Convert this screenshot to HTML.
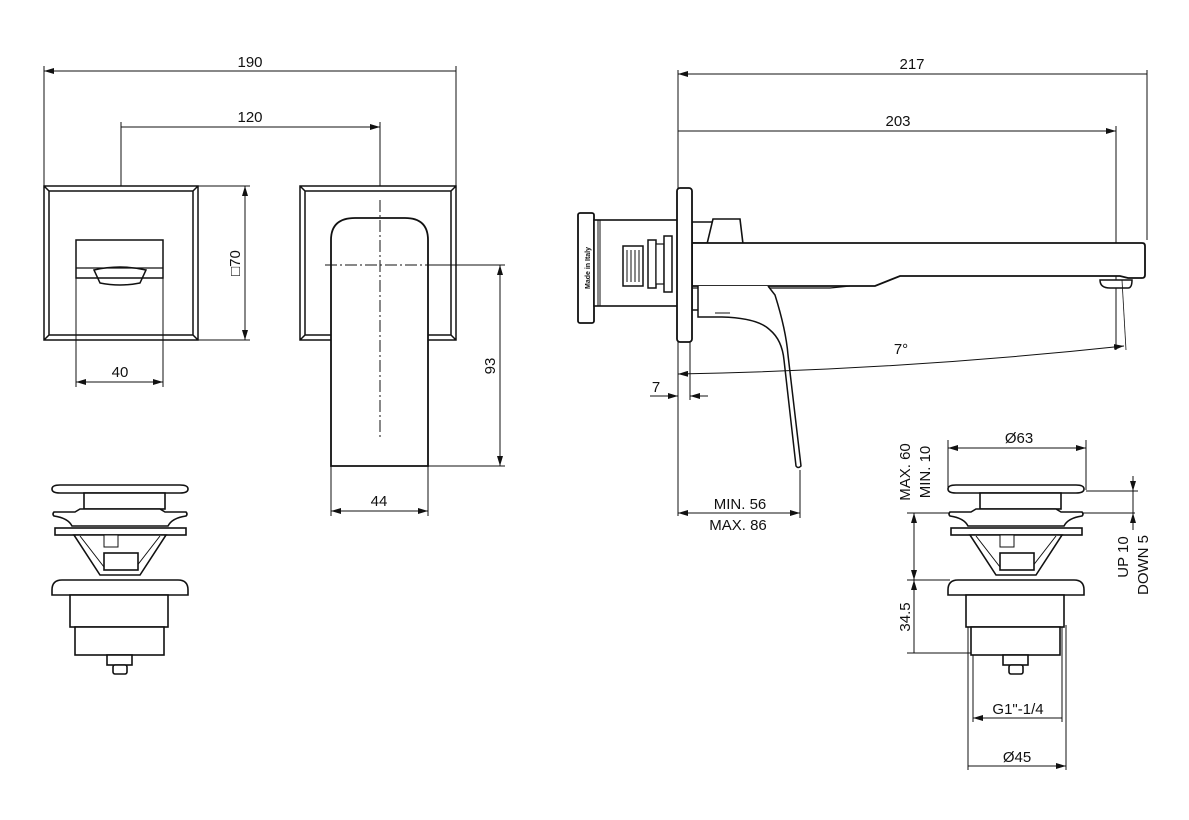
<!DOCTYPE html>
<html><head><meta charset="utf-8"><style>
html,body{margin:0;padding:0;background:#fff;}
svg{display:block;}
text{font-family:"Liberation Sans",sans-serif;font-size:15px;fill:#111;}
</style></head><body>
<svg width="1189" height="820" viewBox="0 0 1189 820" xmlns="http://www.w3.org/2000/svg">
<defs>
<marker id="a" viewBox="0 0 10 6" refX="10" refY="3" markerWidth="10" markerHeight="6" orient="auto-start-reverse" markerUnits="userSpaceOnUse"><path d="M0,0L10,3L0,6z" fill="#111"/></marker>
<g id="drain" fill="#fff" stroke="#111" stroke-width="1.6">
<path d="M52,489 Q52,485 60,485 L180,485 Q188,485 188,489 Q188,493 180,493 L60,493 Q52,493 52,489z"/>
<rect x="84" y="493" width="81" height="16"/>
<path d="M80,509 L160,509 L165,512 L186,512 Q188,514 186,516 Q172,518 168,526 L72,526 Q68,518 54,516 Q52,514 54,512 L75,512z"/>
<rect x="55" y="528" width="131" height="7"/>
<path d="M74,535 L166,535 L140,575 L100,575z"/>
<path d="M80,536 L104,567 M160,536 L136,567" stroke-width="1"/>
<rect x="104" y="553" width="34" height="17"/>
<rect x="104" y="535" width="14" height="12" stroke-width="1"/>
<path d="M52,590 Q52,580 62,580 L178,580 Q188,580 188,590 L188,595 L52,595z"/>
<rect x="70" y="595" width="98" height="32"/>
<rect x="75" y="627" width="89" height="28"/>
<rect x="107" y="655" width="25" height="10"/>
<rect x="113" y="665" width="14" height="9" rx="2"/>
</g>
</defs>

<g fill="none" stroke="#111" stroke-width="1">
<!-- top left front views -->
<path d="M44,186 H198 V340 H44Z M49,191 H193 V335 H49Z M44,186 L49,191 M198,186 L193,191 M44,340 L49,335 M198,340 L193,335" stroke-width="1.5"/>
<rect x="76" y="240" width="87" height="38" stroke-width="1.5"/>
<path d="M76,268 H163" stroke-width="1.2"/>
<path d="M94,270 Q120,264 146,270 L140,283 Q120,287 100,283Z" stroke-width="1.5"/>
<path d="M300,186 H456 V340 H300Z M305,191 H451 V335 H305Z M300,186 L305,191 M456,186 L451,191 M300,340 L305,335 M456,340 L451,335" stroke-width="1.5"/>
<path d="M331,466 V240 Q331,218 355,218 H405 Q428,218 428,240 V466 Z" fill="#fff" stroke-width="1.8"/>
<path d="M380,200 V440" stroke-dasharray="12,3,2,3"/>
<path d="M325,265 H440" stroke-dasharray="12,3,2,3"/>

<!-- dims top left -->
<path d="M44,66 V186 M456,66 V186 M121,122 V186 M380,122 V186"/>
<path d="M44,71 H456 M121,127 H380" marker-start="url(#a)" marker-end="url(#a)"/>
<path d="M198,186 H250 M198,340 H250"/>
<path d="M245,186 V340" marker-start="url(#a)" marker-end="url(#a)"/>
<path d="M76,278 V387 M163,278 V387"/>
<path d="M76,382 H163" marker-start="url(#a)" marker-end="url(#a)"/>
<path d="M428,265 H505 M428,466 H505"/>
<path d="M500,265 V466" marker-start="url(#a)" marker-end="url(#a)"/>
<path d="M331,466 V516 M428,466 V516"/>
<path d="M331,511 H428" marker-start="url(#a)" marker-end="url(#a)"/>

<!-- side view -->
<path d="M678,70 V516 M1147,70 V240 M1116,126 V350"/>
<path d="M678,74 H1147 M678,131 H1116" marker-start="url(#a)" marker-end="url(#a)"/>
<rect x="578" y="213" width="16" height="110" rx="2" fill="#fff" stroke-width="1.8"/>
<rect x="594" y="220" width="84" height="86" fill="#fff" stroke-width="1.6"/>
<rect x="598" y="220" width="2" height="86" stroke-width="1"/>
<rect x="623" y="246" width="20" height="40" fill="#fff" stroke-width="1.5"/>
<path d="M627,250 V282 M631,250 V282 M635,250 V282 M639,250 V282" stroke-width="1"/>
<rect x="648" y="240" width="8" height="48" fill="#fff" stroke-width="1.5"/>
<rect x="656" y="244" width="8" height="40" fill="#fff" stroke-width="1.2"/>
<rect x="664" y="236" width="8" height="56" fill="#fff" stroke-width="1.5"/>
<path d="M692,222 H712 Q728,222 738,232 L742,243 H692Z M692,278 H705 V310 H692Z" fill="#fff" stroke-width="1.5"/>
<path d="M707,244 L713,219 H740 L743,244Z" fill="#fff" stroke-width="1.6"/>
<path d="M692,243 H1142 Q1145,243 1145,246 V275 Q1145,278 1142,278 H1128 L1120,276 H900 L875,286 H692Z" fill="#fff" stroke-width="1.8"/>
<path d="M692,288 H830 L850,286" stroke-width="1.2"/>
<path d="M1100,280 Q1100,288 1110,288 H1128 Q1132,288 1132,280Z" fill="#fff" stroke-width="1.5"/>
<path d="M698,286 V317 H722 Q758,318 770,330 Q782,340 784,360 L796,466 Q798,469 801,466 L788,355 Q786,330 775,295 L768,286" fill="#fff" stroke-width="1.5"/>
<path d="M715,313 L730,313" stroke-width="1"/>
<rect x="677" y="188" width="15" height="154" rx="3" fill="#fff" stroke-width="1.8"/>
<path d="M1122,280 L1126,350" stroke-width="0.8"/>
<path d="M678,374 Q900,370 1124,346" marker-start="url(#a)" marker-end="url(#a)"/>
<path d="M690,342 V400"/>
<path d="M650,396 H678" marker-end="url(#a)"/>
<path d="M708,396 H690" marker-end="url(#a)"/>
<path d="M800,470 V518"/>
<path d="M678,513 H800" marker-start="url(#a)" marker-end="url(#a)"/>

<!-- right drain dims -->
<path d="M948,440 V490 M1086,440 V490"/>
<path d="M948,448 H1086" marker-start="url(#a)" marker-end="url(#a)"/>
<path d="M1086,491 H1138 M907,513 H1135 M907,580 H950 M907,653 H973"/>
<path d="M914,513 V580" marker-start="url(#a)" marker-end="url(#a)"/>
<path d="M914,580 V653" marker-start="url(#a)"/>
<path d="M1133,476 V491" marker-end="url(#a)"/>
<path d="M1133,530 V513" marker-end="url(#a)"/>
<path d="M1133,513 V491"/>
<path d="M973,625 V722 M1062,625 V722 M968,625 V770 M1066,625 V770"/>
<path d="M973,718 H1062 M968,766 H1066" marker-start="url(#a)" marker-end="url(#a)"/>
</g>

<use href="#drain"/>
<use href="#drain" transform="translate(896,0)"/>

<g>
<text x="250" y="67" text-anchor="middle">190</text>
<text x="250" y="122" text-anchor="middle">120</text>
<text x="120" y="377" text-anchor="middle">40</text>
<text x="379" y="506" text-anchor="middle">44</text>
<text transform="translate(240,263) rotate(-90)" text-anchor="middle">□70</text>
<text transform="translate(495,366) rotate(-90)" text-anchor="middle">93</text>
<text x="912" y="69" text-anchor="middle">217</text>
<text x="898" y="126" text-anchor="middle">203</text>
<text x="901" y="354" text-anchor="middle">7°</text>
<text x="656" y="392" text-anchor="middle">7</text>
<text x="740" y="509" text-anchor="middle">MIN. 56</text>
<text x="738" y="530" text-anchor="middle">MAX. 86</text>
<text x="1019" y="443" text-anchor="middle">Ø63</text>
<text transform="translate(910,472) rotate(-90)" text-anchor="middle">MAX. 60</text>
<text transform="translate(930,472) rotate(-90)" text-anchor="middle">MIN. 10</text>
<text transform="translate(910,617) rotate(-90)" text-anchor="middle">34.5</text>
<text transform="translate(1128,557) rotate(-90)" text-anchor="middle">UP 10</text>
<text transform="translate(1148,565) rotate(-90)" text-anchor="middle">DOWN 5</text>
<text x="1018" y="714" text-anchor="middle">G1"-1/4</text>
<text x="1017" y="762" text-anchor="middle">Ø45</text>
<text transform="translate(590,268) rotate(-90)" text-anchor="middle" style="font-size:7px;font-weight:bold">Made in Italy</text>
</g>
</svg>
</body></html>
